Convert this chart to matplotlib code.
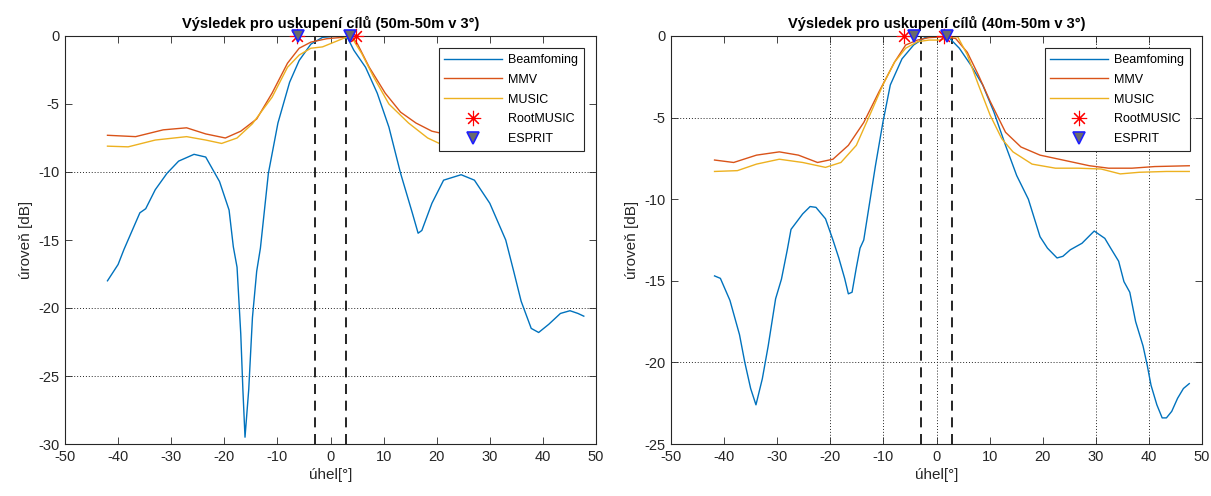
import numpy as np
import matplotlib
matplotlib.use('Agg')
import matplotlib.pyplot as plt

plt.rcParams['font.family'] = ['Liberation Sans', 'DejaVu Sans']
plt.rcParams['axes.unicode_minus'] = False

# --- left panel: 50m-50m ---
bf1_x = [-42, -40, -38.9, -35.9, -34.8, -33, -30.8, -28.6, -25.7, -23.5, -20.9, -19.1, -18.3, -17.6, -16.9, -16.5,
         -16.1, -15.4, -14.7, -13.9, -13.2, -11.7, -9.9, -7.7, -5.9, -3.7, -1.5, 1.5, 3.3, 4.4, 6.6, 8.8, 11,
         13.2, 15.4, 16.5, 17.2, 19.1, 21.3, 24.6, 27.1, 30, 33, 34.5, 35.9, 37.8, 39.2, 41.1, 43.3, 45.1, 46.6, 47.7]
bf1_y = [-18.0, -16.8, -15.7, -13.0, -12.7, -11.3, -10.1, -9.2, -8.7, -8.9, -10.7, -12.8, -15.5, -17.0, -21.9, -26.0,
         -29.5, -26.0, -20.7, -17.3, -15.6, -10.1, -6.4, -3.4, -1.8, -0.6, -0.1, 0.0, -0.2, -1.05, -2.3, -4.2, -6.7,
         -10.1, -13.0, -14.5, -14.3, -12.3, -10.6, -10.2, -10.6, -12.3, -15.0, -17.3, -19.5, -21.5, -21.8, -21.2,
         -20.4, -20.2, -20.4, -20.6]

mmv1_x = [-42, -36.7, -31.5, -27.1, -23.5, -19.8, -16.9, -13.9, -11, -8.1, -5.9, -3.7, -0.7, 2.2, 4, 5.1, 7.3,
          10.3, 13.2, 16.1, 19.1, 22, 26, 30, 35, 40, 44, 47.7]
mmv1_y = [-7.3, -7.4, -6.9, -6.75, -7.2, -7.5, -7.0, -6.1, -4.2, -2.0, -0.9, -0.45, -0.2, -0.1, 0.0, -0.6, -2.3,
          -4.2, -5.6, -6.4, -7.0, -7.25, -7.4, -7.5, -7.55, -7.6, -7.6, -7.65]

mus1_x = [-42, -38.1, -33, -27.1, -23.5, -20.5, -17.6, -14.7, -11, -8.1, -5.9, -3.7, -1.5, 0.7, 2.9, 4, 5.9, 8.1,
          11, 14.7, 18.3, 20.5, 24, 28, 33, 38, 43, 47.7]
mus1_y = [-8.1, -8.15, -7.65, -7.4, -7.65, -7.9, -7.5, -6.45, -4.5, -2.3, -1.4, -0.9, -0.8, -0.45, -0.1, -0.1,
          -1.3, -3.0, -5.0, -6.4, -7.5, -7.9, -8.05, -8.1, -8.1, -8.1, -8.1, -8.1]

root1_x = [-6.4, 4.8]
esprit1_x = [-6.1, 3.7]

# --- right panel: 40m-50m ---
bf2_x = [-41.8, -40.7, -38.9, -37.1, -36.1, -35, -34, -32.8, -31.7, -30.3, -29.2, -28.1, -27.4, -25.2, -23.8,
         -22.7, -20.9, -19.5, -18.4, -17.3, -16.6, -15.9, -15.1, -14.4, -13.7, -11.5, -10.1, -8.7, -6.5, -4.3,
         -2.2, 0, 2.2, 4.3, 6.5, 8.7, 10.8, 13, 15.1, 17.3, 19.5, 20.9, 22.7, 23.8, 25.2, 27.4, 29.7, 31.7, 32.8,
         34.3, 35.3, 36.4, 37.5, 38.9, 39.7, 40.4, 41.5, 42.5, 43.3, 44.3, 45.4, 46.5, 47.6]
bf2_y = [-14.7, -14.85, -16.2, -18.3, -20.0, -21.6, -22.6, -21.0, -19.0, -16.1, -14.9, -13.1, -11.85, -10.9, -10.45,
         -10.5, -11.2, -12.5, -13.6, -14.85, -15.8, -15.7, -14.2, -13.0, -12.5, -7.95, -5.3, -3.0, -1.4, -0.55,
         -0.1, 0.0, -0.05, -0.75, -1.8, -3.0, -4.65, -6.7, -8.55, -10.0, -12.3, -13.0, -13.6, -13.5, -13.1, -12.7,
         -11.95, -12.4, -13.0, -13.8, -15.05, -15.7, -17.5, -19.0, -20.2, -21.4, -22.6, -23.4, -23.4, -23.0, -22.2,
         -21.6, -21.3]

mmv2_x = [-41.8, -38.2, -33.9, -29.6, -26, -22.4, -19.5, -16.6, -13.7, -10.8, -7.9, -5.8, -3.6, -1.4, 1.4, 3.6,
          5.8, 7.9, 10.1, 13, 15.9, 19.5, 23.8, 28.8, 32.4, 36.8, 41.1, 47.6]
mmv2_y = [-7.6, -7.75, -7.3, -7.1, -7.3, -7.75, -7.55, -6.7, -5.3, -3.4, -1.6, -0.55, -0.25, -0.1, -0.05, -0.15,
          -1.0, -2.4, -4.0, -5.9, -6.8, -7.3, -7.6, -7.95, -8.1, -8.1, -8.0, -7.95]

mus2_x = [-41.8, -37.5, -33.9, -29.6, -25.2, -20.9, -18, -15.1, -12.3, -10.1, -7.9, -5.8, -3.6, -1.4, 0.7, 2.9, 4,
          5.8, 7.9, 10.1, 12.3, 14.4, 18, 22.4, 26.7, 31, 34.6, 38.2, 43.3, 47.6]
mus2_y = [-8.3, -8.25, -7.85, -7.55, -7.75, -8.05, -7.75, -6.7, -4.65, -3.0, -1.6, -0.75, -0.35, -0.25, -0.25,
          -0.05, -0.05, -1.15, -3.0, -4.85, -6.3, -7.1, -7.85, -8.1, -8.1, -8.15, -8.45, -8.35, -8.3, -8.3]

root2_x = [-6.2, 1.4]
esprit2_x = [-4.2, 2.0]

targets = [-3, 3]
c_bf, c_mmv, c_mus = '#0072BD', '#D95319', '#EDB120'
ink = '#262626'


def draw(ax, title, bf, mmv, mus, root_x, esp_x, ylo, hgrid, vgrid):
    for y in hgrid:
        ax.axhline(y, color=ink, ls=(0, (1, 2)), lw=0.7, zorder=0)
    for x in vgrid:
        ax.axvline(x, color=ink, ls=(0, (1, 2)), lw=0.7, zorder=0)
    for x in targets:
        ax.axvline(x, color='black', ls=(0, (6, 4)), lw=1.2, zorder=1)
    ax.plot(bf[0], bf[1], color=c_bf, lw=1, label='Beamfoming', zorder=2)
    ax.plot(mmv[0], mmv[1], color=c_mmv, lw=1, label='MMV', zorder=2)
    ax.plot(mus[0], mus[1], color=c_mus, lw=1, label='MUSIC', zorder=2)
    ax.plot(root_x, [0] * len(root_x), ls='none', marker=(8, 2, 0), ms=11, mec='red', mew=0.8,
            label='RootMUSIC', zorder=5, clip_on=False)
    ax.plot(esp_x, [0] * len(esp_x), ls='none', marker='v', ms=8, mfc='#6b6b6b', mec='#2020ff', mew=1.2,
            label='ESPRIT', zorder=6, clip_on=False)
    ax.set_xlim(-50, 50)
    ax.set_ylim(ylo, 0)
    ax.set_xticks(np.arange(-50, 51, 10))
    ax.set_yticks(np.arange(ylo, 1, 5))
    ax.tick_params(direction='in', top=True, right=True, length=5, width=0.6, labelsize=10.5, colors=ink,
                   pad=4)
    for s in ax.spines.values():
        s.set_color(ink)
        s.set_linewidth(0.8)
    ax.set_title(title, fontsize=10.5, fontweight='bold', pad=6)
    ax.set_xlabel('úhel[°]', fontsize=11, color=ink, labelpad=3)
    ax.set_ylabel('úroveň [dB]', fontsize=11, color=ink, labelpad=4)
    leg = ax.legend(loc='upper right', fontsize=9, fancybox=False, framealpha=1, edgecolor=ink,
                    handlelength=4.6, labelspacing=0.62, borderaxespad=1.0, borderpad=0.45, handletextpad=0.5)
    leg.get_frame().set_linewidth(0.8)


fig = plt.figure(figsize=(12.11, 4.96), dpi=100)
ax1 = fig.add_axes([65 / 1211, 52 / 496, 531 / 1211, 408 / 496])
ax2 = fig.add_axes([671 / 1211, 52 / 496, 531 / 1211, 408 / 496])

draw(ax1, 'Výsledek pro uskupení cílů (50m-50m v 3°)', (bf1_x, bf1_y), (mmv1_x, mmv1_y), (mus1_x, mus1_y),
     root1_x, esprit1_x, -30, [-10, -20, -25], [])
draw(ax2, 'Výsledek pro uskupení cílů (40m-50m v 3°)', (bf2_x, bf2_y), (mmv2_x, mmv2_y), (mus2_x, mus2_y),
     root2_x, esprit2_x, -25, [-5, -20], [-20, -10, 0, 30, 40])

fig.savefig('out.png', dpi=100)
